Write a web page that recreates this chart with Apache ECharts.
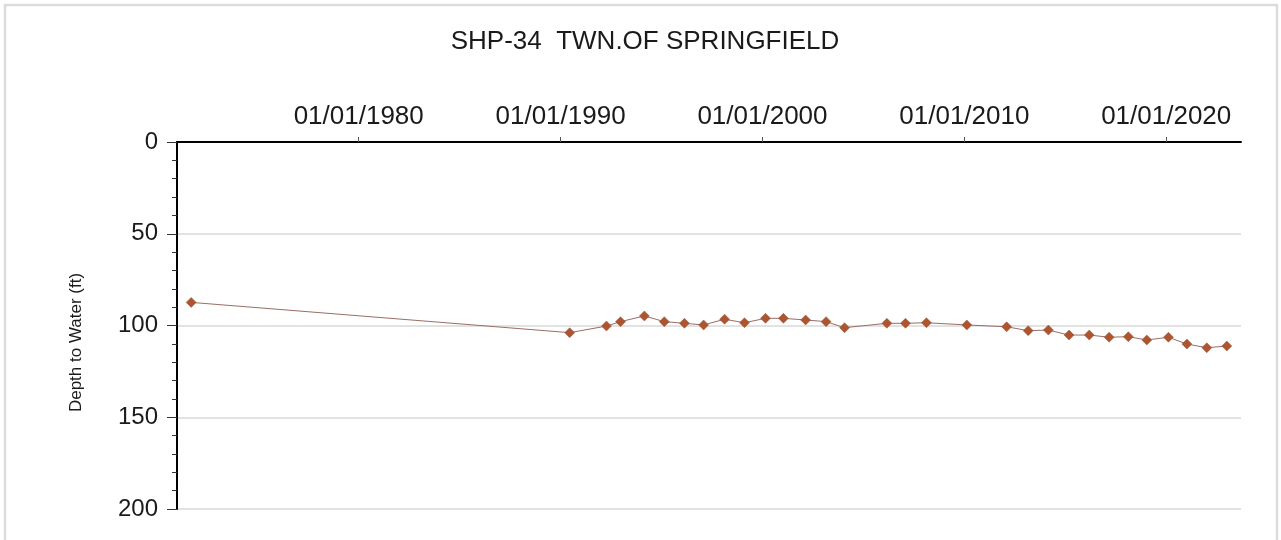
<!DOCTYPE html>
<html><head><meta charset="utf-8">
<script src="https://cdn.jsdelivr.net/npm/echarts@6/dist/echarts.min.js"></script>
<style>html,body{margin:0;padding:0;background:#fff}#c{width:1281px;height:540px}</style>
</head><body><div id="c"></div>
<script>
const titleText = 'SHP-34  TWN.OF SPRINGFIELD';
const yAxisName = 'Depth to Water (ft)';
const dates = ['1971-09-15','1990-06-15','1992-04-10','1992-12-20','1994-02-25','1995-02-20','1996-02-20','1997-02-01','1998-02-15','1999-02-10','2000-02-25','2001-01-15','2002-02-20','2003-02-25','2004-01-25','2006-03-01','2007-02-01','2008-02-15','2010-02-15','2012-02-05','2013-03-01','2014-03-01','2015-03-10','2016-03-10','2017-03-05','2018-02-15','2019-01-15','2020-02-10','2021-01-10','2022-01-05','2023-01-01'];
const depths = [87.4,103.9,100.3,97.9,94.8,97.9,98.8,99.7,96.6,98.5,96.1,96.1,97.0,97.9,101.2,98.8,98.8,98.5,99.7,100.7,102.8,102.5,105.2,105.2,106.4,106.1,107.9,106.4,110.1,112.1,111.2];
const xTickYears = [1980,1990,2000,2010,2020];
const xRange = ['1971-01-01','2023-09-15'];
const yTicks = [0,50,100,150,200];

// convert a date string to a fractional year
function toYear(s){const p=s.split('-').map(Number);const t0=Date.UTC(p[0],0,1),t1=Date.UTC(p[0]+1,0,1);return p[0]+(Date.UTC(p[0],p[1]-1,p[2])-t0)/(t1-t0);}
const data = dates.map((d,i)=>[toYear(d),depths[i]]);
const FONT='Liberation Sans, Arial';
const chart = echarts.init(document.getElementById('c'));
chart.setOption({
  backgroundColor:'#fff',
  animation:false,
  title:{text:titleText,left:640,top:24,textAlign:'center',
    textStyle:{fontFamily:FONT,fontSize:26,fontWeight:'normal',color:'#1a1a1a'}},
  graphic:[{type:'rect',shape:{x:5,y:5,width:1272,height:545},style:{fill:'none',stroke:'#dcdcdc',lineWidth:2.5},silent:true}],
  grid:{left:177,top:142,right:40,bottom:31},
  xAxis:{type:'value',position:'top',min:toYear(xRange[0]),max:toYear(xRange[1]),
    axisLine:{onZero:false,lineStyle:{color:'#000',width:2}},
    axisTick:{show:true,customValues:xTickYears,length:5,lineStyle:{color:'#555',width:1}},
    axisLabel:{customValues:xTickYears,margin:12,fontFamily:FONT,fontSize:26,color:'#1a1a1a',
      formatter:v=>'01/01/'+Math.round(v)},
    splitLine:{show:false},minorTick:{show:false}},
  yAxis:{type:'value',inverse:true,min:yTicks[0],max:yTicks[yTicks.length-1],interval:50,
    name:yAxisName,nameLocation:'middle',nameGap:92,
    nameTextStyle:{fontFamily:FONT,fontSize:17,color:'#1a1a1a',padding:[0,34,0,0]},
    axisLine:{lineStyle:{color:'#000',width:2}},
    axisTick:{length:10,lineStyle:{color:'#333',width:1}},
    minorTick:{show:true,splitNumber:5,length:5,lineStyle:{color:'#333',width:1}},
    axisLabel:{margin:19,fontFamily:FONT,fontSize:24,color:'#1a1a1a'},
    splitLine:{show:true,lineStyle:{color:'#d9d9d9',width:1.5}}},
  series:[{type:'line',data:data,symbol:'diamond',symbolSize:10,
    lineStyle:{color:'#9a6e66',width:1},
    itemStyle:{color:'#b0542e',borderColor:'#8a5a4a',borderWidth:0.5}}]
});
</script></body></html>
